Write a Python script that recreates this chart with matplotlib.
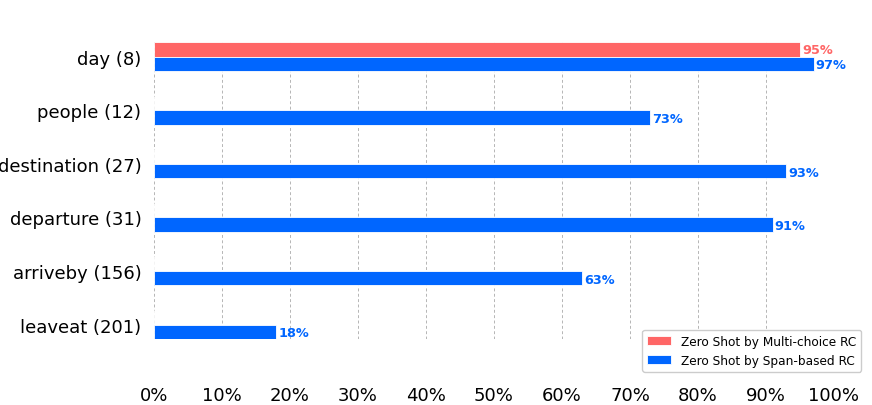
import numpy as np
import matplotlib.pyplot as plt

categories = ["day (8)", "people (12)", "destination (27)", "departure (31)", "arriveby (156)", "leaveat (201)"]
multi_choice = [95, 0, 0, 0, 0, 0]
span_based = [97, 73, 93, 91, 63, 18]
xticks = [0, 10, 20, 30, 40, 50, 60, 70, 80, 90, 100]

red = "#ff6666"
blue = "#0066ff"
h = 0.27

fig = plt.figure(figsize=(8.72, 4.06), dpi=100)
ax = fig.add_axes([0.1766, 0.1626, 0.7798, 0.7314])

y = np.arange(len(categories))
ax.barh(y - h / 2, multi_choice, height=h, color=red, edgecolor="white", linewidth=0.6,
        label="Zero Shot by Multi-choice RC", zorder=3)
ax.barh(y + h / 2, span_based, height=h, color=blue, edgecolor="white", linewidth=0.6,
        label="Zero Shot by Span-based RC", zorder=3)

for i, v in enumerate(multi_choice):
    if v > 0:
        ax.text(v + 0.3, i - h / 2, f"{v}%", color=red, fontsize=9.3, fontweight="bold",
                va="center", ha="left")
for i, v in enumerate(span_based):
    if v > 0:
        ax.text(v + 0.3, i + h / 2 + 0.02, f"{v}%", color=blue, fontsize=9.3, fontweight="bold",
                va="center", ha="left")

ax.set_xlim(0, 100)
ax.set_ylim(len(categories) - 1 + h, -h)
ax.set_yticks(y)
ax.set_yticklabels(categories, fontsize=13)
ax.set_xticks(xticks)
ax.set_xticklabels([f"{t}%" for t in xticks], fontsize=13)
ax.tick_params(axis="both", length=0)
ax.tick_params(axis="x", pad=34)
ax.tick_params(axis="y", pad=9)
for s in ax.spines.values():
    s.set_visible(False)
ax.grid(axis="x", linestyle=(0, (3, 2.5)), color="#b5b5b5", linewidth=0.7, zorder=0)

fig.legend(loc="lower right", bbox_to_anchor=(0.9946, 0.0676), fontsize=8.7, framealpha=1,
           edgecolor="#cccccc")

fig.savefig("out.png", dpi=100)
